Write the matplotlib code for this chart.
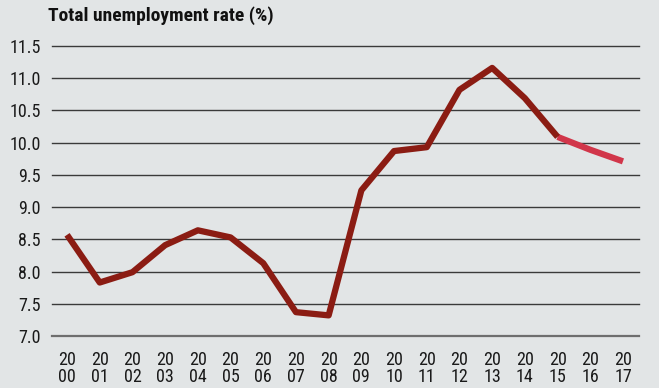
import matplotlib.pyplot as plt

# Total unemployment rate (%), 2000-2017 (last two years projected)
years = ['2000', '2001', '2002', '2003', '2004', '2005', '2006', '2007', '2008',
         '2009', '2010', '2011', '2012', '2013', '2014', '2015', '2016', '2017']
rate = [8.57, 7.83, 7.99, 8.41, 8.64, 8.53, 8.13, 7.37, 7.32,
        9.26, 9.87, 9.93, 10.82, 11.16, 10.69, 10.09, 9.89, 9.71]
n_actual = 16  # up to 2015, rest is forecast
yticks = [7.0, 7.5, 8.0, 8.5, 9.0, 9.5, 10.0, 10.5, 11.0, 11.5]

plt.rcParams['font.family'] = ['Roboto Condensed', 'DejaVu Sans']
bg = '#e2e5e6'

fig = plt.figure(figsize=(6.59, 3.88), dpi=100, facecolor=bg)
ax = fig.add_axes([52 / 659, 1 - 336 / 388, (639 - 52) / 659, (336 - 46) / 388])
ax.set_facecolor(bg)

for t in yticks:
    ax.axhline(t, color='#6e6e6e' if t == 7.0 else '#3a3a3a',
               lw=1.6 if t == 7.0 else 1.0, clip_on=False, zorder=1)

x = list(range(len(years)))
ax.plot(x[n_actual - 1:], rate[n_actual - 1:], color='#d1364a', lw=4.5,
        solid_capstyle='butt', solid_joinstyle='round', zorder=3)
ax.plot(x[:n_actual], rate[:n_actual], color='#8b1c13', lw=4.5,
        solid_capstyle='butt', solid_joinstyle='round', zorder=4)

ax.set_xlim(-0.46, 17.49)
ax.set_ylim(7.0, 11.5)
ax.set_yticks(yticks)
ax.set_yticklabels([f'{t:.1f}' for t in yticks], fontsize=13, color='#1a1a1a')
ax.set_xticks(x)
ax.set_xticklabels([y[:2] + '\n' + y[2:] for y in years], fontsize=13,
                   color='#1a1a1a', linespacing=0.9)
ax.tick_params(length=0, pad=8)
ax.tick_params(axis='x', pad=11)
for s in ax.spines.values():
    s.set_visible(False)

fig.text(48 / 659, 1 - 16 / 388, 'Total unemployment rate (%)', fontsize=14,
         fontweight='bold', va='center', ha='left', color='#111111')

fig.savefig('out.png', dpi=100, facecolor=bg)
